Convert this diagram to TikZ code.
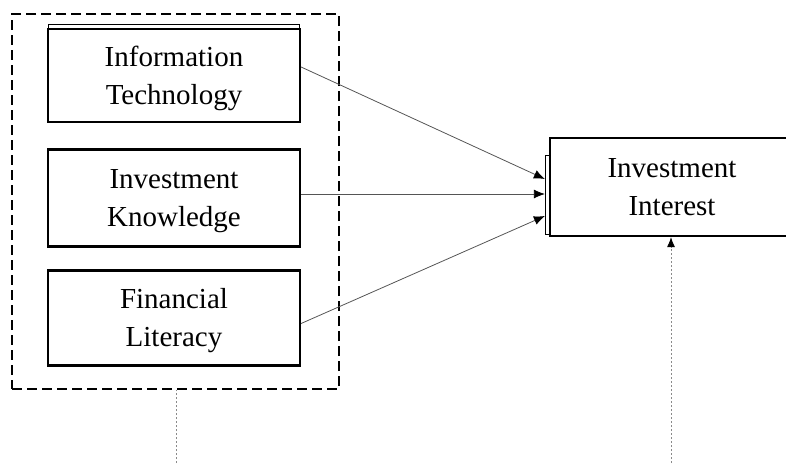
\documentclass[tikz,border=0pt]{standalone}
\usepackage{fontspec}
\setmainfont{Liberation Serif}
\usepackage{tikz}
\usetikzlibrary{
arrows.meta,
positioning
}
\definecolor{linegray}{HTML}{555555}
\definecolor{dotgray}{HTML}{8A8A8A}

\begin{document}
\begin{tikzpicture}[
x=1pt, y=-1pt,
box/.style={
rectangle,
draw=black,
line width=2.2pt,
fill=white,
minimum width=252pt,
inner sep=0pt,
text height=57pt,
text depth=0pt,
align=center,
font=\fontsize{29}{38}\selectfont
},
groupbox/.style={
rectangle,
draw=black,
line width=1.4pt,
dash pattern=on 10pt off 5pt,
minimum width=327pt,
minimum height=375pt
},
arrow/.style={-{Latex[length=11pt,width=9pt,black]},draw=linegray,line width=0.8pt},
dotline/.style={draw=dotgray,line width=0.9pt,dash pattern=on 2pt off 2pt}
]
\useasboundingbox (0,0) rectangle (786,463);

\node[groupbox] (group) at (175.5,201.5) {};

\node[box, minimum height=93pt] (infotech) at (174,75.5) {Information\\Technology};
\node[box, minimum height=97pt] (knowledge) at (174,198) {Investment\\Knowledge};
\node[box, minimum height=95pt] (literacy) at (174,318) {Financial\\Literacy};
\node[box, minimum width=244pt, minimum height=98pt] (interest) at (672,187) {Investment\\Interest};

% thin second outlines
\draw[line width=0.8pt] ([xshift=1pt]infotech.north west) -- ++(0pt,4pt) -| ([xshift=-2pt]infotech.north east);
\draw[line width=0.8pt] ([yshift=-18pt]interest.north west) -- ++(-3.5pt,0pt) |- ([yshift=3pt]interest.south west);

\draw[arrow] ([yshift=8.5pt]infotech.east) -- ([xshift=-4pt,yshift=8pt]interest.west);
\draw[arrow] ([yshift=4pt]knowledge.east) -- ([xshift=-4pt,yshift=4pt]knowledge.east -| interest.west);
\draw[arrow] ([yshift=-5.5pt]literacy.east) -- ([xshift=-4pt,yshift=-29pt]interest.west);

\coordinate (groupend) at (176,463);
\coordinate (interestend) at (671,463);
\draw[dotline] (groupend) -- (groupend |- group.south);
\draw[dotline, -{Latex[length=10pt,width=8pt,black]}] (interestend) -- (interestend |- interest.south);

\end{tikzpicture}
\end{document}
